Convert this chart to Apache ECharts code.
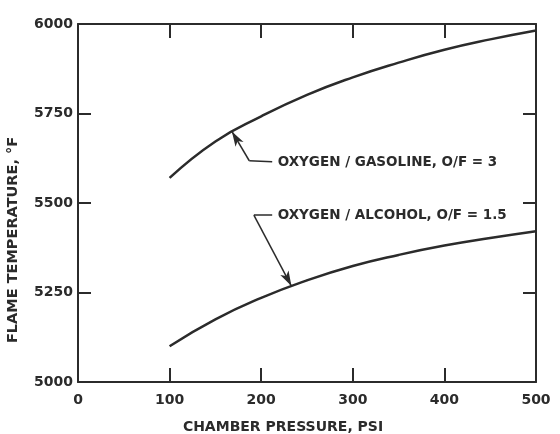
<!DOCTYPE html>
<html>
<head>
<meta charset="utf-8">
<script src="https://cdn.jsdelivr.net/npm/echarts@6/dist/echarts.min.js"></script>
<style>
  html, body { margin: 0; background: #fff; }
  #main { width: 560px; height: 434px; }
</style>
</head>
<body>
<div id="main"></div>
<script>
// chamber pressure (psi) and flame temperature (°F)
var pressure = [100, 150, 200, 250, 300, 350, 400, 450, 500];
var gasoline = [5570, 5672, 5742, 5802, 5851, 5892, 5928, 5957, 5982];
var alcohol  = [5100, 5175, 5235, 5284, 5324, 5355, 5381, 5402, 5421];

// leader lines: label end -> elbow -> point on the curve
var gasLeader = [[212, 5615], [187, 5618], [168, 5700]];
var alcLeader = [[212, 5466], [192, 5466], [233, 5268]];
var labelPos = [[218, 5612], [218, 5464]];
var labelText = ['OXYGEN / GASOLINE, O/F = 3', 'OXYGEN / ALCOHOL, O/F = 1.5'];

var ink = '#2b2b2b';
var font = 'DejaVu Sans';

function pairs(xs, ys) {
  return xs.map(function (x, i) { return [x, ys[i]]; });
}

// leader segments, arrow only on the last one
function leader(pts) {
  var out = [];
  for (var i = 0; i < pts.length - 1; i++) {
    var last = i === pts.length - 2;
    out.push([
      { coord: pts[i], symbol: 'none' },
      { coord: pts[i + 1], symbol: last ? 'arrow' : 'none', symbolSize: [7, 15] }
    ]);
  }
  return out;
}

function xAx(pos) {
  return {
    type: 'value', position: pos, min: 0, max: 500, interval: 100,
    axisLine: { show: true, onZero: false, lineStyle: { color: ink, width: 2 } },
    axisTick: { show: true, inside: true, length: 14, lineStyle: { color: ink, width: 2 } },
    axisLabel: { show: pos === 'bottom', margin: 11, color: ink, fontFamily: font, fontWeight: 'bold', fontSize: 14 },
    splitLine: { show: false }
  };
}

function yAx(pos) {
  return {
    type: 'value', position: pos, min: 5000, max: 6000, interval: 250,
    axisLine: { show: true, onZero: false, lineStyle: { color: ink, width: 2 } },
    axisTick: { show: true, inside: true, length: 13, lineStyle: { color: ink, width: 2 } },
    axisLabel: {
      show: pos === 'left', margin: 5, color: ink, fontFamily: font, fontWeight: 'bold', fontSize: 14,
      formatter: function (v) { return String(v); }
    },
    splitLine: { show: false }
  };
}

var option = {
  animation: false,
  backgroundColor: '#fff',
  grid: { left: 78, right: 24, top: 24, bottom: 52 },
  xAxis: [xAx('bottom'), xAx('top')],
  yAxis: [yAx('left'), yAx('right')],
  graphic: [
    {
      type: 'text', x: 13, y: 240, rotation: Math.PI / 2,
      style: {
        text: 'FLAME TEMPERATURE, °F', fill: ink,
        font: 'bold 14.5px "DejaVu Sans"', align: 'center', verticalAlign: 'middle'
      }
    },
    {
      type: 'text', x: 283, y: 427,
      style: {
        text: 'CHAMBER PRESSURE, PSI', fill: ink,
        font: 'bold 14px "DejaVu Sans"', align: 'center', verticalAlign: 'middle'
      }
    }
  ],
  series: [
    {
      name: 'Oxygen/Gasoline', type: 'line', smooth: true, symbol: 'none',
      data: pairs(pressure, gasoline),
      lineStyle: { color: ink, width: 2.5 },
      markLine: {
        silent: true, animation: false, label: { show: false },
        lineStyle: { color: ink, width: 1.5, type: 'solid' },
        data: leader(gasLeader)
      }
    },
    {
      name: 'Oxygen/Alcohol', type: 'line', smooth: true, symbol: 'none',
      data: pairs(pressure, alcohol),
      lineStyle: { color: ink, width: 2.5 },
      markLine: {
        silent: true, animation: false, label: { show: false },
        lineStyle: { color: ink, width: 1.5, type: 'solid' },
        data: leader(alcLeader)
      }
    },
    {
      type: 'scatter', symbolSize: 0, silent: true,
      itemStyle: { opacity: 1 },
      data: labelPos.map(function (p, i) { return { value: p, name: labelText[i] }; }),
      label: {
        show: true, position: 'right', distance: 0, opacity: 1,
        formatter: function (p) { return p.name; },
        color: ink, fontFamily: font, fontWeight: 'bold', fontSize: 13.5,
        textBorderWidth: 0
      }
    }
  ]
};

var chart = echarts.init(document.getElementById('main'));
chart.setOption(option);
</script>
</body>
</html>
